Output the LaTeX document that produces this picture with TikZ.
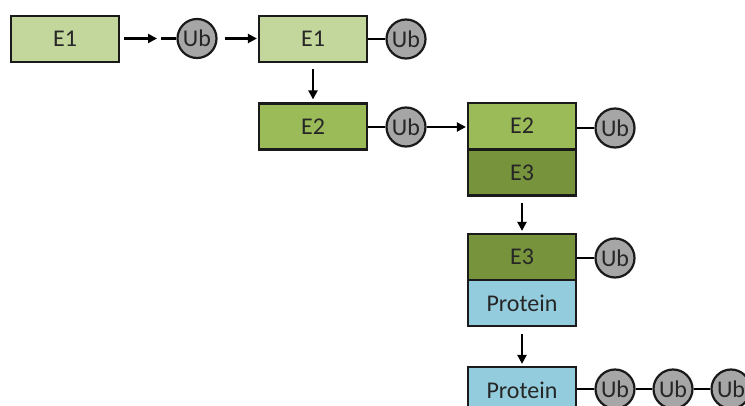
\documentclass[tikz,border=0pt]{standalone}
\usepackage{fontspec}
\setmainfont{Carlito}
\usetikzlibrary{arrows.meta}
\definecolor{eone}{HTML}{C3D69B}
\definecolor{etwo}{HTML}{9BBB59}
\definecolor{ethree}{HTML}{77933C}
\definecolor{prot}{HTML}{93CDDD}
\definecolor{ubgray}{HTML}{A6A6A6}
\definecolor{edge}{HTML}{1A1A1A}
\tikzset{
  box/.style={draw=edge, line width=2.2pt, minimum width=108pt, minimum height=46pt, inner sep=0pt, font=\fontsize{24}{28}\selectfont, text=black!85},
  ub/.style={circle, draw=edge, line width=2.2pt, fill=ubgray, minimum size=39pt, inner sep=0pt, font=\fontsize{24}{28}\selectfont, text=black!85},
  arr/.style={line width=2.2pt, -{Triangle[length=9pt,width=9pt]}},
  lnk/.style={line width=2.2pt}
}
\begin{document}
\begin{tikzpicture}[x=1pt,y=-1pt]
\useasboundingbox (0,0) rectangle (745,406);
\clip (0,0) rectangle (745,406);
% row 1
\node[box, fill=eone] (e1a) at (65,39) {E1};
\node[ub] (ub1) at (197,38.5) {Ub};
\node[box, fill=eone] (e1b) at (313,39) {E1};
\node[ub] (ub2) at (406,39) {Ub};
\coordinate (c1s) at (124,38.5);
\coordinate (c1e) at (157,38.5);
\coordinate (c2s) at (161,38.5);
\draw[arr] (c1s) -- (c1e);
\draw[lnk] (c2s) -- (ub1);
\draw[arr, shorten <=7pt, shorten >=1pt] (ub1) -- (ub1 -| e1b.west);
\draw[lnk] (e1b) -- (ub2);
% row 2
\node[box, fill=etwo] (e2a) at (313,126.5) {E2};
\node[ub] (ub3) at (406,127) {Ub};
\draw[arr, shorten <=6pt, shorten >=3pt] (e1b) -- (e2a);
\draw[lnk] (ub3) -- (ub3 -| e2a.east);
\node[box, fill=etwo] (e2b) at (522,126) {E2};
\node[box, fill=ethree] (e3a) at (522,172.5) {E3};
\node[ub] (ub4) at (615,128) {Ub};
\draw[arr, shorten >=1pt] (ub3) -- (ub3 -| e2b.west);
\draw[lnk] (ub4) -- (ub4 -| e2b.east);
% row 3
\node[box, fill=ethree] (e3b) at (522,257) {E3};
\node[box, fill=prot] (pa) at (522,303) {Protein};
\node[ub] (ub5) at (615,258) {Ub};
\draw[arr, shorten <=6pt, shorten >=2pt] (e3a) -- (e3b);
\draw[lnk] (ub5) -- (ub5 -| e3b.east);
% row 4
\node[box, fill=prot] (pb) at (522,390) {Protein};
\node[ub] (ub6) at (615,389) {Ub};
\node[ub] (ub7) at (673,389) {Ub};
\node[ub] (ub8) at (731,389) {Ub};
\draw[arr, shorten <=7pt, shorten >=2pt] (pa) -- (pb);
\draw[lnk] (ub6) -- (ub6 -| pb.east);
\draw[lnk] (ub6) -- (ub7);
\draw[lnk] (ub7) -- (ub8);
\end{tikzpicture}
\end{document}
